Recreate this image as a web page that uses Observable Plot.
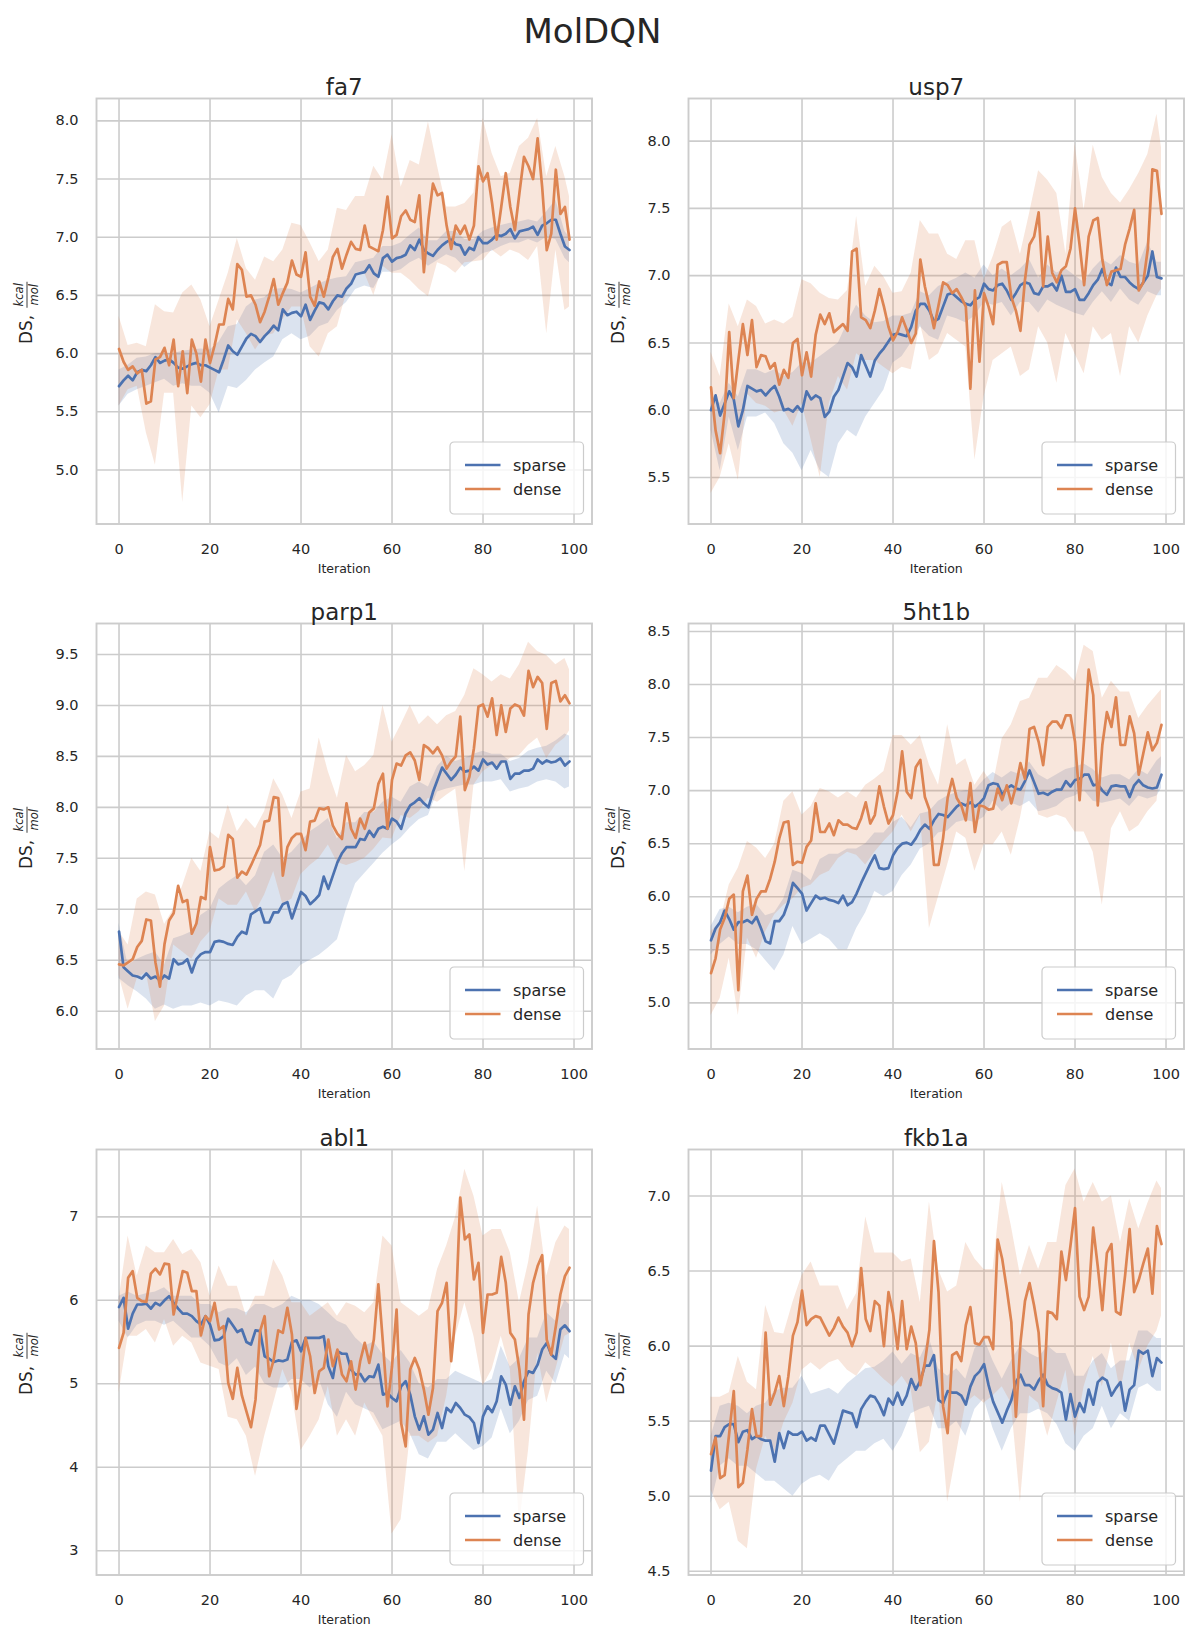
<!DOCTYPE html>
<html><head><meta charset="utf-8">
<script src="https://cdn.jsdelivr.net/npm/d3@7"></script>
<script src="https://cdn.jsdelivr.net/npm/@observablehq/plot@0.6"></script>
<style>
body{margin:0;background:#fff;font-family:"DejaVu Sans",sans-serif;}
#root{position:relative;width:1185px;height:1633px;background:#fff;overflow:hidden;}
#title{position:absolute;left:0;top:12px;width:1185px;text-align:center;font-size:34px;line-height:39px;color:#262626;}
</style></head><body><div id="root"><div id="title">MolDQN</div></div>
<script>
// ---------- data ----------
const xTicks = [0, 20, 40, 60, 80, 100];
const bandIter = [0,2,4,6,8,10,12,14,16,18,20,22,24,26,28,30,32,34,36,38,40,42,44,46,48,50,52,54,56,58,60,62,64,66,68,70,72,74,76,78,80,82,84,86,88,90,92,94,96,98,99];
const seriesNames = ["sparse", "dense"];

// fa7
const fa7Ticks = [5.0,5.5,6.0,6.5,7.0,7.5,8.0];
const fa7Sparse = [5.72,5.77,5.81,5.77,5.84,5.86,5.85,5.90,5.97,5.92,5.94,5.95,5.92,5.88,5.87,5.89,5.91,5.92,5.90,5.90,5.88,5.86,5.84,5.95,6.07,6.02,5.99,6.06,6.13,6.17,6.15,6.10,6.15,6.19,6.24,6.20,6.38,6.33,6.35,6.36,6.32,6.42,6.29,6.37,6.44,6.43,6.38,6.45,6.50,6.49,6.56,6.60,6.68,6.69,6.70,6.76,6.69,6.66,6.82,6.85,6.79,6.82,6.83,6.85,6.93,6.89,6.98,6.89,6.86,6.84,6.89,6.93,6.96,6.98,6.94,6.93,6.85,6.91,6.89,7.00,6.95,6.95,6.98,7.02,7.01,7.03,7.07,6.99,7.05,7.06,7.07,7.09,7.02,7.10,7.12,7.15,7.15,7.03,6.92,6.89];
const fa7Dense = [6.04,5.93,5.86,5.89,5.83,5.86,5.57,5.59,5.95,5.97,6.05,5.90,6.12,5.72,6.02,5.66,6.12,6.00,5.76,6.12,5.92,6.07,6.25,6.25,6.47,6.38,6.77,6.72,6.49,6.50,6.42,6.27,6.36,6.49,6.64,6.42,6.52,6.61,6.80,6.68,6.66,6.87,6.49,6.41,6.62,6.49,6.65,6.83,6.90,6.73,6.85,6.96,6.90,6.89,7.10,6.92,6.90,6.88,7.06,7.35,6.99,7.02,7.18,7.23,7.15,7.13,7.36,6.70,7.15,7.46,7.36,7.38,7.10,6.90,7.10,7.03,7.10,6.98,7.10,7.61,7.48,7.55,7.29,6.98,7.26,7.55,7.26,7.06,7.38,7.69,7.61,7.50,7.85,7.43,6.89,7.03,7.58,7.20,7.26,6.98];
const fa7SparseLo = [5.55,5.65,5.69,5.72,5.75,5.78,5.72,5.74,5.72,5.72,5.66,5.49,5.72,5.70,5.77,5.86,5.92,5.97,6.12,6.17,6.12,6.15,6.23,6.26,6.37,6.44,6.55,6.58,6.56,6.70,6.70,6.72,6.78,6.82,6.75,6.80,6.85,6.82,6.74,6.80,6.86,6.88,6.92,6.95,6.95,6.98,6.95,7.00,6.98,6.82,6.78];
const fa7SparseHi = [5.86,5.90,5.96,5.97,6.00,6.00,6.00,6.02,6.03,6.04,6.03,6.10,6.23,6.25,6.40,6.46,6.48,6.55,6.56,6.55,6.52,6.56,6.60,6.63,6.65,6.66,6.78,6.80,6.82,6.92,6.92,6.95,7.02,7.08,6.97,6.97,7.05,7.05,6.98,6.98,7.05,7.08,7.10,7.12,7.13,7.15,7.13,7.22,7.32,7.05,7.00];
const fa7DenseLo = [5.55,5.69,5.72,5.32,5.04,5.66,5.66,4.72,5.55,5.45,5.56,5.86,5.86,6.29,6.17,6.03,6.15,6.17,6.29,6.40,6.40,6.06,5.97,6.17,6.23,6.52,6.69,6.69,6.50,6.75,6.69,6.69,6.63,6.55,6.49,6.78,6.75,6.69,6.78,6.79,6.80,6.89,6.83,6.89,6.86,6.80,6.92,6.17,6.89,6.37,6.40];
const fa7DenseHi = [6.32,6.07,6.09,6.06,6.42,6.36,6.35,6.52,6.59,6.46,6.23,6.46,6.69,6.99,6.73,6.63,6.83,6.79,6.89,7.12,7.10,6.95,6.79,6.89,7.25,7.23,7.35,7.35,7.61,7.49,7.88,7.43,7.66,7.62,7.99,7.61,7.26,7.26,7.29,7.38,8.02,7.72,7.52,7.55,7.78,7.85,8.02,7.52,7.78,7.52,7.35];

// usp7
const usp7Ticks = [5.5,6.0,6.5,7.0,7.5,8.0];
const usp7Sparse = [6.00,6.11,5.96,6.05,6.14,6.08,5.88,6.00,6.18,6.16,6.14,6.15,6.11,6.15,6.18,6.10,6.00,6.01,5.99,6.03,5.99,6.14,6.08,6.11,6.09,5.95,5.99,6.10,6.15,6.25,6.35,6.32,6.25,6.41,6.33,6.25,6.37,6.42,6.46,6.51,6.56,6.57,6.56,6.55,6.62,6.74,6.79,6.79,6.74,6.66,6.68,6.77,6.86,6.87,6.84,6.81,6.79,6.78,6.82,6.84,6.94,6.90,6.89,6.93,6.94,6.89,6.82,6.87,6.93,6.95,6.94,6.87,6.86,6.92,6.92,6.94,6.89,7.00,6.88,6.88,6.90,6.82,6.82,6.87,6.93,6.97,7.05,6.95,6.93,7.06,6.99,6.99,6.95,6.92,6.90,6.95,7.00,7.18,6.99,6.98];
const usp7Dense = [6.17,5.85,5.68,5.98,6.58,6.09,6.37,6.64,6.41,6.67,6.32,6.41,6.40,6.31,6.35,6.19,6.30,6.24,6.50,6.53,6.26,6.43,6.25,6.56,6.71,6.64,6.72,6.58,6.61,6.64,6.59,7.18,7.20,6.69,6.67,6.61,6.74,6.90,6.77,6.62,6.52,6.58,6.69,6.60,6.50,6.57,7.12,6.92,6.77,6.61,6.78,6.95,6.93,6.87,6.90,6.84,6.77,6.16,6.89,6.36,6.87,6.77,6.64,7.08,7.10,7.10,6.84,6.74,6.59,6.97,7.23,7.29,7.47,6.92,7.29,7.02,6.95,7.04,7.07,7.20,7.50,7.23,6.93,7.29,7.41,7.43,7.12,6.93,7.03,7.04,7.05,7.23,7.35,7.49,6.89,6.95,7.20,7.79,7.78,7.46];
const usp7SparseLo = [5.85,5.55,5.95,5.70,5.95,5.95,5.98,5.90,5.75,5.68,5.55,5.70,5.55,5.50,5.75,5.85,5.80,5.95,6.05,6.15,6.35,6.40,6.50,6.62,6.55,6.52,6.70,6.68,6.65,6.70,6.80,6.78,6.80,6.70,6.80,6.80,6.72,6.82,6.78,6.75,6.72,6.70,6.80,6.88,6.80,6.90,6.82,6.78,6.88,6.85,6.85];
const usp7SparseHi = [6.10,6.05,6.20,6.10,6.30,6.30,6.27,6.30,6.25,6.28,6.35,6.35,6.40,6.45,6.50,6.65,6.78,6.70,6.65,6.66,6.70,6.70,6.72,6.88,6.85,6.92,6.95,6.98,7.02,6.98,7.08,7.00,7.05,7.00,7.05,7.12,6.98,7.08,7.02,7.05,7.00,6.95,7.05,7.12,7.08,7.15,7.10,7.08,7.25,7.10,7.10];
const usp7DenseLo = [5.38,5.50,5.75,5.48,6.12,6.05,6.03,5.98,6.00,5.88,6.05,5.78,5.50,6.05,6.25,6.15,6.42,6.37,6.37,6.32,6.27,6.32,6.30,6.64,6.37,6.42,6.57,6.52,6.47,5.63,6.10,6.37,6.42,6.47,6.25,6.30,6.62,6.50,6.20,6.57,6.42,6.27,6.62,6.52,6.57,6.25,6.62,6.50,6.70,6.85,6.90];
const usp7DenseHi = [6.43,6.25,6.79,6.62,6.82,6.77,6.64,6.67,6.64,6.69,6.97,6.94,6.87,6.83,6.82,6.89,7.44,6.92,7.07,6.99,6.87,6.88,7.02,7.41,7.31,7.31,7.16,7.12,7.26,7.26,6.97,7.14,7.36,7.41,7.16,7.46,7.78,7.71,7.61,7.16,7.98,7.49,7.97,7.73,7.61,7.54,7.64,7.76,7.90,8.20,7.95];

// parp1
const parp1Ticks = [6.0,6.5,7.0,7.5,8.0,8.5,9.0,9.5];
const parp1Sparse = [6.78,6.43,6.39,6.35,6.34,6.32,6.37,6.32,6.34,6.30,6.35,6.32,6.51,6.46,6.47,6.51,6.38,6.51,6.56,6.58,6.58,6.68,6.69,6.68,6.66,6.65,6.73,6.78,6.76,6.95,6.98,7.01,6.87,6.87,6.97,6.97,7.05,7.07,6.91,7.04,7.17,7.13,7.05,7.09,7.14,7.32,7.20,7.33,7.46,7.55,7.61,7.61,7.61,7.69,7.68,7.77,7.71,7.79,7.81,7.79,7.89,7.86,7.79,7.94,8.02,8.05,8.09,8.04,8.00,8.15,8.27,8.39,8.33,8.27,8.32,8.39,8.35,8.36,8.40,8.36,8.47,8.42,8.44,8.38,8.45,8.45,8.28,8.33,8.33,8.36,8.36,8.38,8.47,8.43,8.46,8.44,8.45,8.48,8.41,8.45];
const parp1Dense = [6.46,6.45,6.48,6.51,6.63,6.69,6.90,6.89,6.48,6.24,6.66,6.89,6.96,7.23,7.07,7.09,6.76,6.86,7.12,7.10,7.61,7.38,7.39,7.42,7.73,7.69,7.31,7.37,7.34,7.43,7.53,7.63,7.86,7.87,8.10,8.09,7.33,7.61,7.70,7.74,7.74,7.58,7.86,7.87,7.99,7.98,8.00,7.82,7.74,7.69,8.04,7.79,7.70,7.89,7.79,7.95,7.99,8.23,8.33,7.79,8.27,8.43,8.41,8.51,8.54,8.46,8.27,8.61,8.58,8.53,8.59,8.51,8.38,8.45,8.50,8.89,8.17,8.30,8.58,8.99,9.01,8.89,9.07,8.71,9.00,8.74,8.97,9.01,8.99,8.90,9.34,9.18,9.28,9.22,8.77,9.22,9.24,9.04,9.10,9.02];
const parp1SparseLo = [6.32,6.25,6.19,6.12,6.02,6.06,6.02,6.05,6.05,6.08,6.05,6.10,6.08,6.05,6.15,6.20,6.20,6.12,6.30,6.35,6.45,6.50,6.55,6.62,6.70,7.00,7.25,7.35,7.45,7.55,7.63,7.70,7.80,7.88,7.92,8.15,8.18,8.20,8.22,8.22,8.25,8.25,8.27,8.15,8.18,8.20,8.25,8.27,8.25,8.18,8.20];
const parp1SparseHi = [6.86,6.45,6.51,6.55,6.58,6.45,6.71,6.74,6.78,6.94,7.00,7.20,7.27,7.33,7.23,7.33,7.56,7.63,7.50,7.56,7.66,7.76,7.82,7.89,7.69,7.85,7.85,7.95,7.95,8.05,8.10,8.05,8.20,8.25,8.20,8.40,8.50,8.45,8.48,8.52,8.55,8.52,8.52,8.45,8.48,8.55,8.58,8.60,8.65,8.72,8.70];
const parp1DenseLo = [6.35,6.02,6.32,6.38,5.90,6.05,6.65,6.58,6.51,6.68,6.78,7.10,7.04,7.04,7.17,6.97,7.14,7.37,7.05,7.10,7.34,7.43,7.50,7.63,7.46,7.43,7.46,7.50,7.59,7.70,7.69,7.92,7.89,7.96,8.09,8.05,8.12,8.18,7.37,8.22,8.35,8.41,8.41,8.48,8.51,8.61,8.68,8.48,8.61,8.68,8.75];
const parp1DenseHi = [6.78,6.65,7.10,7.17,7.14,6.85,7.00,7.23,7.50,7.37,7.76,7.69,8.02,7.76,7.89,7.79,7.96,8.28,8.12,7.89,8.15,8.18,8.68,8.35,8.09,8.51,8.35,8.41,8.51,9.00,8.64,8.81,9.00,8.81,8.90,8.81,8.90,8.94,9.10,9.36,9.30,9.23,9.30,9.26,9.40,9.62,9.53,9.49,9.40,9.46,9.35];

// 5ht1b
const ht1bTicks = [5.0,5.5,6.0,6.5,7.0,7.5,8.0,8.5];
const ht1bSparse = [5.59,5.70,5.76,5.87,5.79,5.69,5.76,5.76,5.78,5.75,5.81,5.70,5.58,5.56,5.77,5.77,5.83,5.95,6.13,6.08,6.03,5.87,5.94,6.01,5.98,5.99,5.97,5.96,5.94,6.01,5.92,5.95,6.03,6.13,6.22,6.31,6.39,6.27,6.26,6.27,6.39,6.46,6.50,6.51,6.49,6.55,6.63,6.68,6.64,6.72,6.78,6.77,6.75,6.80,6.85,6.88,6.86,6.89,6.85,6.88,6.93,7.05,7.07,7.06,6.96,7.02,7.05,7.02,7.01,7.09,7.19,7.08,6.97,6.98,6.96,6.99,7.01,7.01,7.09,7.04,7.10,7.11,7.15,7.15,7.05,7.06,7.00,6.96,7.04,7.05,7.04,7.04,6.94,7.05,7.10,7.05,7.03,7.02,7.03,7.15];
const ht1bDense = [5.28,5.42,5.69,5.80,5.98,6.02,5.12,6.05,6.20,5.83,5.98,6.05,6.05,6.17,6.33,6.55,6.70,6.71,6.30,6.33,6.32,6.47,6.53,6.88,6.61,6.61,6.69,6.58,6.72,6.68,6.68,6.65,6.64,6.74,6.89,6.69,6.77,7.04,6.85,6.69,6.77,6.99,7.37,6.99,6.93,7.22,7.29,6.94,6.82,6.30,6.30,6.55,6.93,7.11,6.93,6.86,6.72,7.07,6.61,6.86,6.85,6.82,6.83,7.02,6.91,7.05,6.88,7.04,7.26,7.11,7.58,7.60,7.46,7.24,7.60,7.65,7.65,7.59,7.71,7.71,7.46,6.91,7.49,8.14,7.90,6.86,7.43,7.74,7.60,7.88,7.43,7.43,7.70,7.54,7.15,7.35,7.55,7.38,7.45,7.62];
const ht1bSparseLo = [5.45,5.55,5.62,5.55,5.55,5.50,5.40,5.30,5.45,5.72,5.55,5.60,5.65,5.60,5.50,5.50,5.70,5.85,6.05,6.00,6.05,6.20,6.30,6.45,6.50,6.60,6.62,6.70,6.72,6.70,6.75,6.90,6.80,6.88,6.85,6.90,6.80,6.82,6.85,6.92,6.95,7.00,6.90,6.88,6.90,6.92,6.85,6.95,6.92,6.95,7.02];
const ht1bSparseHi = [5.72,5.88,5.90,5.85,5.90,5.93,5.82,5.85,5.98,6.25,6.22,6.15,6.35,6.40,6.40,6.45,6.45,6.50,6.60,6.60,6.70,6.75,6.65,6.78,6.80,6.90,6.95,6.98,7.00,7.00,7.10,7.17,7.12,7.18,7.15,7.27,7.15,7.10,7.15,7.20,7.22,7.25,7.20,7.12,7.15,7.15,7.10,7.20,7.15,7.28,7.32];
const ht1bDenseLo = [4.88,5.04,5.42,4.88,5.61,5.42,5.67,5.83,5.92,5.98,6.08,6.11,6.20,6.24,6.36,6.42,6.39,6.30,6.42,6.52,6.61,6.77,6.61,6.77,5.70,6.00,6.30,6.61,6.55,6.24,6.49,6.49,6.61,6.39,6.74,7.18,6.77,6.74,6.77,6.74,6.61,6.61,6.42,5.92,6.64,6.80,6.61,6.67,6.80,6.90,7.25];
const ht1bDenseHi = [5.67,5.76,6.11,6.27,6.52,6.46,6.36,6.50,6.90,6.99,6.77,6.85,7.02,6.99,6.93,6.99,6.93,7.05,7.11,7.18,7.52,7.52,7.43,7.52,7.24,7.05,7.62,7.24,7.30,7.05,7.18,7.05,7.49,7.62,7.84,7.87,8.06,8.06,8.18,8.12,8.03,8.37,8.31,7.87,8.03,7.93,7.93,7.68,7.80,7.90,7.95];

// abl1
const abl1Ticks = [3,4,5,6,7];
const abl1Sparse = [5.92,6.03,5.66,5.84,5.95,5.95,5.96,5.90,5.97,5.94,6.00,6.05,5.97,5.90,5.84,5.84,5.81,5.75,5.71,5.81,5.71,5.52,5.53,5.57,5.78,5.70,5.62,5.65,5.50,5.47,5.64,5.63,5.33,5.30,5.26,5.28,5.27,5.29,5.50,5.52,5.39,5.55,5.55,5.55,5.55,5.57,5.21,5.07,5.39,5.36,5.36,5.17,5.11,5.12,5.03,5.09,5.08,5.23,4.87,4.89,4.83,4.79,4.97,5.03,4.87,4.61,4.45,4.61,4.39,4.45,4.65,4.47,4.71,4.66,4.77,4.71,4.63,4.60,4.53,4.29,4.61,4.73,4.66,4.79,5.09,4.99,4.75,4.97,4.83,5.03,5.15,5.13,5.23,5.41,5.49,5.35,5.30,5.65,5.70,5.63];
const abl1Dense = [5.43,5.61,6.27,6.35,6.03,5.99,5.98,6.32,6.38,6.31,6.44,6.43,5.83,6.09,6.35,6.33,6.11,6.11,5.58,5.81,5.75,5.97,5.65,5.69,5.01,4.82,5.19,4.86,4.67,4.48,4.81,5.63,5.81,5.09,5.29,5.64,5.61,5.91,5.59,4.70,5.05,5.55,5.33,4.89,5.15,5.19,5.53,5.21,5.41,5.11,5.03,5.27,4.93,5.27,5.49,5.25,5.53,6.19,5.49,4.73,5.21,5.89,4.53,4.25,5.17,5.31,5.17,4.93,4.63,4.95,5.87,5.97,6.21,5.27,5.85,7.23,6.73,6.79,6.25,6.45,5.61,6.07,6.07,6.09,6.52,6.21,5.61,5.53,5.17,4.57,5.83,6.21,6.41,6.54,5.53,5.35,5.69,6.07,6.29,6.39];
const abl1SparseLo = [5.75,5.55,5.70,5.75,5.75,5.70,5.75,5.65,5.55,5.55,5.45,5.25,5.20,5.30,5.10,5.20,5.00,4.95,4.95,5.05,5.05,4.95,5.05,4.75,4.60,4.90,4.75,4.70,4.65,4.45,4.50,4.55,4.40,4.15,4.10,4.30,4.30,4.40,4.30,4.20,4.25,4.35,4.70,4.40,4.55,4.80,4.85,5.15,5.00,5.35,5.30];
const abl1SparseHi = [6.05,6.10,6.05,6.08,6.10,6.15,6.05,6.05,6.05,5.95,5.95,5.85,5.90,5.90,5.85,5.95,5.95,5.90,5.95,6.05,6.00,6.00,5.95,5.85,5.75,5.70,5.55,5.45,5.50,5.35,5.25,5.40,5.25,5.00,4.95,5.05,5.05,5.15,5.10,5.05,5.00,5.05,5.45,5.20,5.30,5.55,5.55,5.85,5.75,6.00,5.95];
const abl1DenseLo = [4.89,5.57,5.57,5.65,5.49,5.77,5.45,5.57,5.49,5.25,5.21,5.17,4.60,4.57,4.37,3.89,4.37,4.77,5.17,4.90,4.20,4.37,4.57,4.97,4.37,4.57,4.37,4.77,4.57,4.37,3.20,3.37,4.37,4.37,4.29,4.37,4.85,5.57,5.97,5.57,4.97,5.17,5.57,5.17,3.30,4.20,5.37,4.77,5.17,5.57,5.60];
const abl1DenseHi = [6.01,6.77,6.29,6.65,6.57,6.57,6.73,6.55,6.61,6.45,6.05,6.41,6.17,6.17,5.81,6.05,6.05,6.49,6.29,5.97,5.97,5.81,5.89,5.97,5.81,5.97,5.93,5.85,5.97,6.77,6.65,5.97,5.89,5.81,5.89,6.37,6.65,7.00,7.57,7.25,6.77,6.85,6.85,6.57,5.97,6.45,7.13,6.29,6.69,6.89,6.85];

// fkb1a
const fkb1aTicks = [4.5,5.0,5.5,6.0,6.5,7.0];
const fkb1aSparse = [5.17,5.40,5.40,5.46,5.48,5.48,5.36,5.43,5.44,5.38,5.40,5.38,5.37,5.37,5.23,5.42,5.32,5.43,5.41,5.41,5.43,5.37,5.39,5.37,5.47,5.47,5.41,5.35,5.46,5.57,5.56,5.55,5.46,5.58,5.63,5.67,5.66,5.61,5.54,5.65,5.61,5.69,5.61,5.67,5.78,5.71,5.77,5.87,5.87,5.94,5.64,5.62,5.70,5.69,5.69,5.67,5.61,5.73,5.80,5.83,5.88,5.74,5.63,5.56,5.49,5.57,5.64,5.76,5.81,5.74,5.74,5.71,5.77,5.81,5.74,5.72,5.71,5.69,5.51,5.68,5.53,5.62,5.56,5.71,5.61,5.76,5.79,5.77,5.67,5.72,5.76,5.57,5.71,5.74,5.97,5.95,5.97,5.80,5.92,5.89];
const fkb1aDense = [5.28,5.39,5.12,5.14,5.42,5.70,5.06,5.09,5.31,5.58,5.40,5.40,6.09,5.61,5.69,5.80,5.60,5.80,6.07,6.16,6.37,6.14,6.18,6.20,6.19,6.13,6.07,6.12,6.19,6.13,6.09,6.00,6.09,6.52,6.18,6.10,6.30,6.27,6.00,6.36,6.22,5.98,6.30,5.98,6.13,6.02,5.74,5.89,6.11,6.70,6.36,5.60,5.42,5.94,5.96,5.90,6.14,6.26,6.02,6.01,6.06,6.06,5.98,6.71,6.58,6.38,6.16,5.53,6.02,6.30,6.42,6.27,6.09,5.60,6.23,6.22,6.18,6.63,6.44,6.67,6.92,6.33,6.24,6.33,6.79,6.53,6.24,6.62,6.68,6.23,6.21,6.47,6.78,6.36,6.44,6.55,6.65,6.35,6.80,6.68];
const fkb1aSparseLo = [4.95,5.20,5.25,5.20,5.20,5.15,5.10,5.10,5.05,5.00,5.08,5.12,5.14,5.10,5.20,5.25,5.30,5.30,5.35,5.38,5.30,5.40,5.55,5.58,5.60,5.45,5.45,5.50,5.40,5.58,5.65,5.45,5.30,5.45,5.55,5.55,5.58,5.55,5.48,5.35,5.30,5.40,5.45,5.60,5.45,5.55,5.50,5.72,5.75,5.70,5.70];
const fkb1aSparseHi = [5.40,5.60,5.62,5.60,5.55,5.60,5.62,5.70,5.72,5.72,5.80,5.68,5.70,5.72,5.68,5.75,5.80,5.85,5.86,5.90,5.96,5.88,5.95,5.92,6.05,5.85,5.80,5.85,5.78,5.98,6.05,5.90,5.78,5.90,6.00,5.95,5.92,6.00,5.95,5.95,5.80,5.80,5.90,5.95,5.85,5.90,5.90,6.10,6.10,6.05,6.05];
const fkb1aDenseLo = [5.04,4.91,4.96,4.70,4.65,5.18,5.40,5.29,5.49,5.62,5.84,5.89,5.84,5.89,5.91,5.84,5.80,5.89,5.84,5.78,5.73,5.80,5.71,5.29,5.36,5.71,4.96,5.29,5.62,5.67,5.62,5.67,5.73,5.62,4.96,5.67,5.62,5.40,5.62,5.84,5.40,5.73,5.93,5.73,6.02,5.69,6.02,5.84,6.00,6.10,6.20];
const fkb1aDenseHi = [5.66,5.66,5.69,5.93,5.76,5.71,6.27,6.09,6.08,6.29,6.47,6.56,6.40,6.40,6.40,6.24,6.35,6.86,6.62,6.62,6.62,6.56,6.58,6.29,6.96,6.51,6.36,6.40,6.69,6.58,6.51,6.51,7.09,6.80,6.47,6.67,6.51,6.69,6.69,7.07,7.18,6.96,7.09,6.96,7.00,6.69,6.98,6.78,6.95,7.10,7.05];

// ---------- drawing ----------
const BLUE = "#4c72b0", ORANGE = "#dd8452", GRID = "#cccccc", INK = "#262626";
const ML = 96, MR = 2, MT = 45, MB = 56, PW = 495.5, PH = 425.5;
const colLeft = [96.2, 688.3], rowTop = [98, 623, 1148.5];

const panels = [
  {name: "fa7",   c: 0, r: 0, domain: [4.536, 8.192], ticks: fa7Ticks,   fmt: ".1f", s: fa7Sparse,   d: fa7Dense,   sLo: fa7SparseLo,   sHi: fa7SparseHi,   dLo: fa7DenseLo,   dHi: fa7DenseHi},
  {name: "usp7",  c: 1, r: 0, domain: [5.154, 8.317], ticks: usp7Ticks,  fmt: ".1f", s: usp7Sparse,  d: usp7Dense,  sLo: usp7SparseLo,  sHi: usp7SparseHi,  dLo: usp7DenseLo,  dHi: usp7DenseHi},
  {name: "parp1", c: 0, r: 1, domain: [5.629, 9.804], ticks: parp1Ticks, fmt: ".1f", s: parp1Sparse, d: parp1Dense, sLo: parp1SparseLo, sHi: parp1SparseHi, dLo: parp1DenseLo, dHi: parp1DenseHi},
  {name: "5ht1b", c: 1, r: 1, domain: [4.565, 8.575], ticks: ht1bTicks,  fmt: ".1f", s: ht1bSparse,  d: ht1bDense,  sLo: ht1bSparseLo,  sHi: ht1bSparseHi,  dLo: ht1bDenseLo,  dHi: ht1bDenseHi},
  {name: "abl1",  c: 0, r: 2, domain: [2.709, 7.807], ticks: abl1Ticks,  fmt: "d",   s: abl1Sparse,  d: abl1Dense,  sLo: abl1SparseLo,  sHi: abl1SparseHi,  dLo: abl1DenseLo,  dHi: abl1DenseHi},
  {name: "fkb1a", c: 1, r: 2, domain: [4.475, 7.31],  ticks: fkb1aTicks, fmt: ".1f", s: fkb1aSparse, d: fkb1aDense, sLo: fkb1aSparseLo, sHi: fkb1aSparseHi, dLo: fkb1aDenseLo, dHi: fkb1aDenseHi}
];

const root = document.getElementById("root");
const lineData = arr => arr.map((v, i) => ({x: i, y: v}));
const bandData = (lo, hi) => bandIter.map((x, k) => ({x, y1: lo[k], y2: hi[k]}));

for (const p of panels) {
  const el = Plot.plot({
    width: ML + PW + MR, height: MT + PH + MB,
    marginLeft: ML, marginRight: MR, marginTop: MT, marginBottom: MB,
    style: {background: "transparent", fontFamily: "'DejaVu Sans', sans-serif", fontSize: "14.5px", color: INK, overflow: "visible"},
    x: {domain: [-4.95, 103.95], axis: null},
    y: {domain: p.domain, axis: null},
    marks: [
      Plot.gridX({ticks: xTicks, stroke: GRID, strokeOpacity: 1, strokeWidth: 1.6}),
      Plot.gridY({ticks: p.ticks, stroke: GRID, strokeOpacity: 1, strokeWidth: 1.6}),
      Plot.areaY(bandData(p.sLo, p.sHi), {x: "x", y1: "y1", y2: "y2", fill: BLUE, fillOpacity: 0.2}),
      Plot.areaY(bandData(p.dLo, p.dHi), {x: "x", y1: "y1", y2: "y2", fill: ORANGE, fillOpacity: 0.2}),
      Plot.lineY(lineData(p.s), {x: "x", y: "y", stroke: BLUE, strokeWidth: 2.7}),
      Plot.lineY(lineData(p.d), {x: "x", y: "y", stroke: ORANGE, strokeWidth: 2.7}),
      Plot.frame({stroke: GRID, strokeWidth: 1.9}),
      Plot.axisX({ticks: xTicks, tickSize: 0, tickPadding: 20, fontSize: 14.5, fill: INK, label: null}),
      Plot.axisY({ticks: p.ticks, tickSize: 0, tickPadding: 18, fontSize: 14.5, fill: INK, label: null, tickFormat: d3.format(p.fmt)}),
      Plot.text([p.name], {text: d => d, frameAnchor: "top", dy: -20, fontSize: 23, fill: INK}),
      Plot.text(["Iteration"], {text: d => d, frameAnchor: "bottom", dy: 49, fontSize: 12.5, fill: INK})
    ]
  });
  el.style.position = "absolute";
  el.style.left = (colLeft[p.c] - ML) + "px";
  el.style.top = (rowTop[p.r] - MT) + "px";

  const svg = d3.select(el);
  // y label: DS, kcal/mol (fraction)
  const cy = MT + PH / 2;
  const g = svg.append("g").attr("transform", `translate(${ML},${cy}) rotate(-90)`).attr("fill", INK);
  g.append("text").attr("x", -4).attr("y", -64).attr("text-anchor", "end").attr("font-size", 17).text("DS,");
  g.append("text").attr("x", 16).attr("y", -73).attr("text-anchor", "middle").attr("font-size", 11.5).attr("font-style", "italic").text("kcal");
  g.append("line").attr("x1", 3).attr("x2", 29).attr("y1", -69).attr("y2", -69).attr("stroke", INK).attr("stroke-width", 0.9);
  g.append("text").attr("x", 16).attr("y", -58.5).attr("text-anchor", "middle").attr("font-size", 11.5).attr("font-style", "italic").text("mol");

  // legend (lower right)
  const lw = 133.5, lh = 72;
  const lg = svg.append("g").attr("transform", `translate(${ML + PW - 8 - lw},${MT + PH - 9.5 - lh})`);
  lg.append("rect").attr("width", lw).attr("height", lh).attr("rx", 4).attr("fill", "white").attr("fill-opacity", 0.8).attr("stroke", GRID).attr("stroke-width", 1.2);
  [[seriesNames[0], BLUE, 23], [seriesNames[1], ORANGE, 47]].forEach(([t, col, y]) => {
    lg.append("line").attr("x1", 15).attr("x2", 50.5).attr("y1", y).attr("y2", y).attr("stroke", col).attr("stroke-width", 2.7);
    lg.append("text").attr("x", 63).attr("y", y).attr("dy", "0.35em").attr("text-anchor", "start").attr("font-size", 16).attr("fill", INK).text(t);
  });
  root.appendChild(el);
}
</script></body></html>
